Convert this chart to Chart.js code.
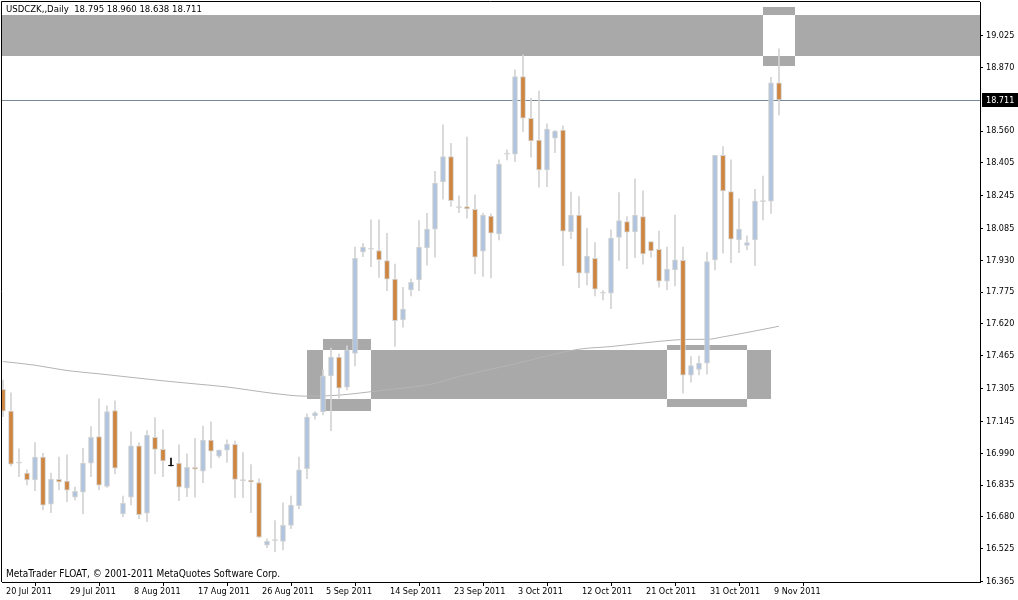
<!DOCTYPE html>
<html>
<head>
<meta charset="utf-8">
<script src="https://cdn.jsdelivr.net/npm/chart.js@4.4.0/dist/chart.umd.min.js"></script>
<style>
body{margin:0;background:#fff}
#wrap{position:relative;width:1018px;height:600px}
.cap{position:absolute;left:6px;font-family:"DejaVu Sans Condensed","Liberation Sans",sans-serif;color:#000;white-space:pre}
</style>
</head>
<body>
<div id="wrap">
  <canvas id="chart" width="1018" height="600"></canvas>
  <div class="cap" style="top:3px;font-size:9.5px">USDCZK,,Daily  18.795 18.960 18.638 18.711</div>
  <div class="cap" style="top:568px;font-size:10px">MetaTrader FLOAT, © 2001-2011 MetaQuotes Software Corp.</div>
</div>
<script>
// Daily bars, 20 Jul 2011 -> 10 Nov 2011 (incl. Sunday bars)
const opens=[17.302,17.195,16.942,16.893,16.860,16.971,16.742,16.863,16.854,16.776,
16.800,16.942,17.071,16.828,17.198,16.694,16.776,17.026,16.698,17.068,
17.009,16.928,16.942,16.820,16.922,16.903,17.054,16.976,17.005,17.034,
16.857,16.859,16.847,16.542,16.564,16.561,16.639,16.735,16.915,17.172,
17.191,17.367,17.458,17.312,17.477,17.971,17.984,17.977,17.929,17.838,
17.640,17.786,17.834,17.990,18.082,18.312,18.435,18.187,18.192,18.179,
17.974,18.145,18.059,18.447,18.447,18.825,18.622,18.516,18.370,18.525,
18.564,18.070,18.151,17.867,17.940,17.770,17.770,18.042,18.119,18.068,
18.143,18.021,17.984,17.829,17.883,17.930,17.370,17.399,17.429,17.932,
18.442,18.265,18.029,18.002,18.029,18.216,18.218,18.795];
const highs=[17.347,17.285,17.011,16.909,17.042,16.990,16.893,16.971,16.982,16.825,
17.014,17.120,17.255,17.221,17.245,16.782,17.095,17.042,17.100,17.164,
17.104,16.966,17.031,16.987,17.063,17.123,17.143,17.007,17.055,17.050,
16.993,16.935,16.865,16.573,16.662,16.749,16.782,16.972,17.182,17.193,
17.396,17.503,17.474,17.513,17.994,18.013,18.127,18.127,18.062,17.912,
17.799,17.838,18.123,18.159,18.364,18.590,18.500,18.244,18.530,18.249,
18.159,18.156,18.419,18.468,18.858,18.931,18.720,18.755,18.595,18.563,
18.585,18.262,18.240,18.086,18.016,17.782,18.078,18.260,18.143,18.327,
18.268,18.021,18.073,17.994,18.151,17.994,17.461,17.464,17.969,18.442,
18.484,18.419,18.229,18.049,18.276,18.341,18.822,18.960];
const lows=[17.168,16.928,16.876,16.836,16.808,16.714,16.701,16.811,16.754,16.763,
16.694,16.876,16.811,16.823,16.889,16.681,16.738,16.671,16.657,16.889,
16.876,16.928,16.759,16.779,16.776,16.847,16.919,16.969,16.945,16.774,
16.774,16.701,16.578,16.530,16.511,16.519,16.623,16.719,16.866,17.156,
17.177,17.100,17.258,17.299,17.416,17.948,17.899,17.847,17.782,17.510,
17.604,17.757,17.782,17.906,17.945,18.228,18.192,18.162,18.135,17.864,
17.851,17.844,18.029,18.419,18.411,18.557,18.432,18.286,18.289,18.455,
17.904,18.036,17.797,17.810,17.757,17.737,17.695,17.929,17.889,17.943,
17.911,17.945,17.799,17.786,17.805,17.283,17.336,17.372,17.375,17.883,
17.965,17.919,17.967,17.981,17.904,18.127,18.159,18.638];
const closes=[17.195,16.937,16.942,16.860,16.971,16.737,16.863,16.850,16.810,16.805,
16.942,17.068,16.834,17.193,16.917,16.746,17.026,16.691,17.079,17.009,
16.953,16.928,16.825,16.922,16.912,17.054,17.000,17.005,17.034,16.863,
16.857,16.850,16.581,16.561,16.564,16.639,16.737,16.909,17.166,17.187,
17.367,17.458,17.307,17.493,17.940,17.994,17.984,17.932,17.838,17.636,
17.692,17.823,17.994,18.082,18.306,18.435,18.221,18.187,18.180,17.945,
18.151,18.062,18.399,18.447,18.825,18.622,18.512,18.370,18.569,18.560,
18.072,18.151,17.867,17.951,17.789,17.770,18.038,18.123,18.067,18.150,
17.961,17.976,17.829,17.887,17.932,17.370,17.417,17.429,17.924,18.442,
18.268,18.033,18.082,18.016,18.218,18.216,18.795,18.711];
const markedBars=[21];

// moving average, read every few bars
const maBars=[0,4,8,12,16,20,24,28,32,36,38,42,46,50,54,57,60,64,68,72,76,80,84,86,88,90,92,94,96,97];
const maValues=[17.437,17.419,17.393,17.377,17.360,17.343,17.328,17.313,17.291,17.272,17.268,17.273,17.290,17.308,17.330,17.364,17.391,17.425,17.464,17.497,17.510,17.527,17.542,17.545,17.545,17.557,17.571,17.586,17.601,17.609];

// rectangles (bar index / price)
const zoneStart=[-5,95,38,40,83];
const zoneEnd=[130,99,96,46,93];
const zoneHigh=[19.125,19.166,17.494,17.547,17.518];
const zoneLow=[18.927,18.879,17.256,17.198,17.214];

const tickBars=[0,8,16,24,32,40,48,56,64,72,80,88,96];
const dateLabels=["20 Jul 2011","29 Jul 2011","8 Aug 2011","17 Aug 2011","26 Aug 2011","5 Sep 2011","14 Sep 2011","23 Sep 2011","3 Oct 2011","12 Oct 2011","21 Oct 2011","31 Oct 2011","9 Nov 2011"];
const priceTicks=[19.025,18.870,18.560,18.405,18.245,18.085,17.930,17.775,17.620,17.465,17.305,17.145,16.990,16.835,16.680,16.525,16.365];
const lastPrice=18.711;

const FONT='"DejaVu Sans Condensed","Liberation Sans",sans-serif';
const UP="#B0C4DE", DOWN="#CD853F", WICK="#D3D3D3";

const bodyColor=opens.map((o,i)=>markedBars.includes(i)?"#000":closes[i]>o?UP:closes[i]<o?DOWN:WICK);
const edgeColor=opens.map((o,i)=>markedBars.includes(i)?"#000":WICK);

function noPad(s){s.paddingTop=0;s.paddingBottom=0;s.paddingLeft=0;s.paddingRight=0;}

// Zones drawn with xor like the terminal does
const zonePlugin={
  id:"zones",
  beforeDatasetsDraw(chart){
    const {ctx,chartArea:a,scales:{x,y}}=chart;
    const off=document.createElement("canvas");
    off.width=chart.width;off.height=chart.height;
    const o=off.getContext("2d");
    o.globalCompositeOperation="xor";
    o.fillStyle="#A9A9A9";
    zoneStart.forEach((s,k)=>{
      const x1=Math.round(x.getPixelForValue(s)),x2=Math.round(x.getPixelForValue(zoneEnd[k]));
      const y1=Math.round(y.getPixelForValue(zoneHigh[k])),y2=Math.round(y.getPixelForValue(zoneLow[k]));
      o.fillRect(x1,y1,x2-x1,y2-y1);
    });
    ctx.save();
    ctx.beginPath();ctx.rect(a.left,a.top,a.right-a.left,a.bottom-a.top);ctx.clip();
    ctx.drawImage(off,0,0);
    // current price line
    const py=Math.round(y.getPixelForValue(lastPrice))+0.5;
    ctx.strokeStyle="#778899";ctx.lineWidth=1;
    ctx.beginPath();ctx.moveTo(a.left,py);ctx.lineTo(a.right,py);ctx.stroke();
    ctx.restore();
  },
  afterDraw(chart){
    const {ctx,chartArea:a,scales:{y}}=chart;
    ctx.save();
    ctx.strokeStyle="#000";ctx.lineWidth=1;
    ctx.beginPath();
    ctx.moveTo(a.left-0.5,a.bottom);ctx.lineTo(a.left-0.5,a.top-0.5);ctx.lineTo(a.right,a.top-0.5);
    ctx.stroke();
    const py=Math.round(y.getPixelForValue(lastPrice));
    ctx.fillStyle="#000";
    ctx.fillRect(a.right+2,py-7,36,14);
    ctx.fillStyle="#fff";
    ctx.font="9px "+FONT;
    ctx.textBaseline="middle";
    ctx.fillText(lastPrice.toFixed(3),a.right+6,py+0.5);
    ctx.restore();
  }
};

new Chart(document.getElementById("chart"),{
  type:"bar",
  data:{
    datasets:[
      {
        type:"line",
        data:maBars.map((b,i)=>({x:b,y:maValues[i]})),
        borderColor:"#B4B4B4",borderWidth:1,pointRadius:0,
        cubicInterpolationMode:"monotone",order:4
      },
      {
        data:opens.map((o,i)=>({x:i,y:[lows[i],highs[i]]})),
        backgroundColor:edgeColor,barThickness:1,grouped:false,order:3
      },
      {
        data:opens.map((o,i)=>({x:i,y:[o,closes[i]]})),
        backgroundColor:bodyColor,borderColor:edgeColor,borderWidth:1,
        borderSkipped:false,barThickness:5,minBarLength:1,grouped:false,order:2
      }
    ]
  },
  options:{
    responsive:false,
    animation:false,
    layout:{padding:{left:2,top:2,right:0,bottom:0}},
    plugins:{legend:{display:false},tooltip:{enabled:false}},
    scales:{
      x:{
        type:"linear",position:"bottom",offset:false,
        min:-0.125,max:122.125,
        afterBuildTicks:s=>{s.ticks=tickBars.map(v=>({value:v}));},
        afterFit:s=>{s.height=18;noPad(s);},
        grid:{drawOnChartArea:false,drawTicks:true,tickLength:4,color:"#000"},
        border:{color:"#000"},
        ticks:{
          autoSkip:false,maxRotation:0,minRotation:0,align:"start",labelOffset:3,padding:0,
          color:"#000",font:{family:FONT,size:9},
          callback:v=>dateLabels[tickBars.indexOf(v)]
        }
      },
      y:{
        type:"linear",position:"right",
        min:16.3628,max:19.1885,
        afterBuildTicks:s=>{s.ticks=priceTicks.map(v=>({value:v}));},
        afterFit:s=>{s.width=38;noPad(s);},
        grid:{drawOnChartArea:false,drawTicks:true,tickLength:3,color:"#000"},
        border:{color:"#000"},
        ticks:{padding:3,color:"#000",font:{family:FONT,size:9},callback:v=>v.toFixed(3)}
      }
    }
  },
  plugins:[zonePlugin]
});
</script>
</body>
</html>
